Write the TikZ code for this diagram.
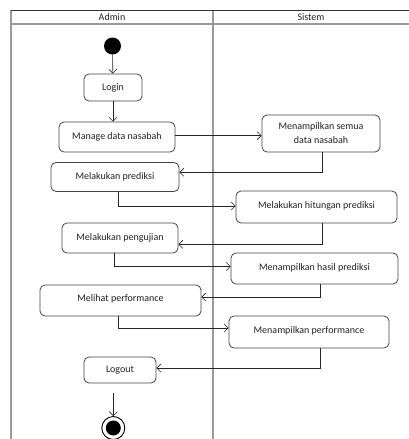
\documentclass[tikz,border=0pt]{standalone}
\usepackage{fontspec}
\setmainfont{Carlito}
\usetikzlibrary{arrows.meta}
\definecolor{lanegray}{HTML}{9A9A9A}
\definecolor{boxgray}{HTML}{444444}
\definecolor{txtgray}{HTML}{222222}
\tikzset{
  act/.style={draw=boxgray, rounded corners=5pt, line width=0.8pt, inner sep=0pt,
    align=center, text=txtgray, font=\fontsize{10}{14}\selectfont},
  arr/.style={-{Straight Barb[length=4pt,width=8pt]}, line width=0.6pt, draw=black!85},
  lane/.style={draw=lanegray, line width=1.6pt},
  lanetop/.style={draw=black!80, line width=1pt},
  hdr/.style={text=txtgray, font=\fontsize{10}{12}\selectfont, inner sep=0pt}
}
\begin{document}
\begin{tikzpicture}[x=1pt,y=-1pt]
\useasboundingbox (0,0) rectangle (409,439);
\fill[white] (0,0) rectangle (409,439);
% swimlanes
\draw[lane] (11,24) -- (409,24);
\draw[lane] (11,10) -- (11,439);
\draw[lane, line width=1.2pt] (213,10) -- (213,439);
\draw[lanetop] (11,10) -- (409,10);
\node[hdr] (hadmin) at (112,17) {Admin};
\node[hdr] (hsistem) at (311,17) {Sistem};
% start
\node[circle, fill=black, minimum size=17pt, inner sep=0pt] (start) at (112.5,46) {};
% activities
\node[act, minimum width=58pt, minimum height=27pt] (login) at (113,87.5) {\raisebox{1pt}{Login}};
\node[act, minimum width=116pt, minimum height=30pt] (manage) at (117,137) {\raisebox{2pt}{Manage data nasabah}};
\node[act, minimum width=118pt, minimum height=37pt] (semua) at (321,133.5) {Menampilkan semua\\data nasabah};
\node[act, minimum width=128pt, minimum height=29pt] (prediksi) at (115,177) {\raisebox{2.5pt}{Melakukan prediksi}};
\node[act, minimum width=161pt, minimum height=32pt] (hitungan) at (316.5,207) {\raisebox{3pt}{Melakukan hitungan prediksi}};
\node[act, minimum width=116pt, minimum height=30pt] (pengujian) at (120,238) {\raisebox{2pt}{Melakukan pengujian}};
\node[act, minimum width=167pt, minimum height=31pt] (hasil) at (314.5,268.5) {\raisebox{3pt}{Menampilkan hasil prediksi}};
\node[act, minimum width=161pt, minimum height=31pt] (melihat) at (120.5,300.5) {\raisebox{4pt}{Melihat performance}};
\node[act, minimum width=160pt, minimum height=32pt] (perf) at (309,332) {\raisebox{3pt}{Menampilkan performance}};
\node[act, minimum width=72pt, minimum height=26pt] (logout) at (120,370) {\raisebox{2pt}{Logout}};
% end
\node[circle, draw=black, line width=0.9pt, minimum size=23pt, inner sep=0pt] (end) at (113.3,428) {};
\node[circle, fill=black, minimum size=15pt, inner sep=0pt] (endin) at (end.center) {};
\coordinate (endtail) at (113.3,393);
% flows
\draw[arr] (start) -- (login);
\draw[arr] (login.south) -- (login.south |- manage.north);
\draw[arr] ([yshift=1.3pt]manage.east) -- ([yshift=1.3pt]manage.east -| semua.west);
\draw[arr] ([xshift=1pt]semua.south) |- ([yshift=4.7pt]prediksi.east);
\draw[arr] ([xshift=3pt]prediksi.south) |- ([yshift=1pt]hitungan.west);
\draw[arr] ([xshift=5.3pt]hitungan.south) |- ([yshift=-6.3pt]pengujian.east);
\draw[arr] ([xshift=-6pt]pengujian.south) |- ([yshift=2pt]hasil.west);
\draw[arr] ([xshift=5.5pt]hasil.south) |- ([yshift=3.5pt]melihat.east);
\draw[arr] ([xshift=-2.5pt]melihat.south) |- ([yshift=4pt]perf.west);
\draw[arr] ([xshift=11pt]perf.south) |- ([yshift=2pt]logout.east);
\draw[arr] (endtail) -- (end.north);
\end{tikzpicture}
\end{document}
